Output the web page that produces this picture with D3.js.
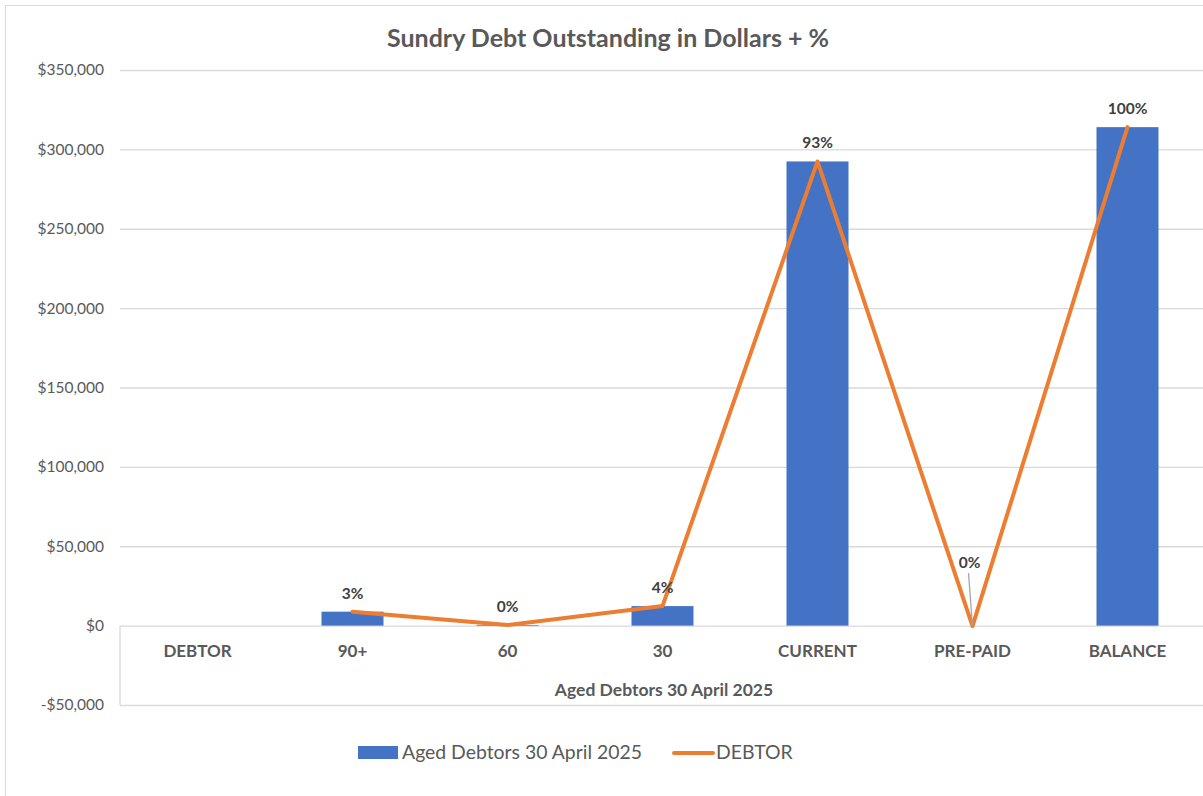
<!DOCTYPE html>
<html>
<head>
<meta charset="utf-8">
<script src="https://cdn.jsdelivr.net/npm/d3@7"></script>
<style>
  body { margin: 0; background: #fff; }
  text { font-family: Lato, "Open Sans", sans-serif; }
</style>
</head>
<body>
<script>
// chart data
const categories = ["DEBTOR", "90+", "60", "30", "CURRENT", "PRE-PAID", "BALANCE"];
const amounts = [null, 8800, 400, 12300, 292400, 0, 314000];
const debtorLine = [null, 8800, 400, 12300, 292400, -300, 314000];
const pctLabels = [null, "3%", "0%", "4%", "93%", "0%", "100%"];
const yTicks = [-50000, 0, 50000, 100000, 150000, 200000, 250000, 300000, 350000];

const W = 1203, H = 796;
const grey = "#595959";
const gridCol = "#d9d9d9";

const svg = d3.select("body").append("svg")
    .attr("width", W)
    .attr("height", H);

// outer chart border
svg.append("rect")
    .attr("x", 5.5).attr("y", 5.5)
    .attr("width", W + 10).attr("height", H + 10)
    .attr("fill", "none")
    .attr("stroke", gridCol);

const xScale = d3.scaleBand(categories, [120, 1205])
    .paddingInner(0.6)
    .paddingOuter(0.3);

const yScale = d3.scaleLinear([-50000, 350000], [705, 70]);

// title
svg.append("text")
    .attr("x", 608).attr("y", 47)
    .attr("text-anchor", "middle")
    .attr("font-size", 25)
    .attr("font-weight", "bold")
    .attr("fill", grey)
    .text("Sundry Debt Outstanding in Dollars + %");

// grid + y axis
const yAxis = svg.append("g")
    .attr("transform", "translate(120,0)")
    .call(d3.axisLeft(yScale)
        .tickValues(yTicks)
        .tickSize(-(1205 - 120))
        .tickPadding(16)
        .tickFormat(d => (d < 0 ? "-$" : "$") + d3.format(",")(Math.abs(d))));
yAxis.select(".domain").remove();
yAxis.selectAll(".tick line").attr("stroke", gridCol).attr("stroke-width", 1.3);
yAxis.selectAll(".tick text")
    .attr("fill", grey)
    .attr("font-size", 15.5)
    .attr("font-family", "Lato, sans-serif");

// frame line on the left of the category labels
svg.append("line")
    .attr("x1", 120).attr("x2", 120)
    .attr("y1", yScale(0)).attr("y2", yScale(-50000))
    .attr("stroke", gridCol).attr("stroke-width", 1.3);

// bars
svg.append("g")
    .selectAll("rect")
    .data(categories.map((c, i) => ({ c, v: amounts[i] })).filter(d => d.v != null))
    .enter()
    .append("rect")
    .attr("x", d => xScale(d.c))
    .attr("width", xScale.bandwidth())
    .attr("y", d => yScale(Math.max(0, d.v)))
    .attr("height", d => Math.abs(yScale(d.v) - yScale(0)))
    .attr("fill", "#4472C4");

// category labels
const xAxis = svg.append("g")
    .attr("transform", `translate(0, ${yScale(0)})`)
    .call(d3.axisBottom(xScale).tickSize(0).tickPadding(19));
xAxis.select(".domain").remove();
xAxis.selectAll(".tick text")
    .attr("fill", grey)
    .attr("font-size", 17)
    .attr("font-weight", "bold")
    .attr("font-family", "Lato, sans-serif");

svg.append("text")
    .attr("x", 664).attr("y", 696)
    .attr("text-anchor", "middle")
    .attr("font-size", 17.5)
    .attr("font-weight", "bold")
    .attr("fill", grey)
    .text("Aged Debtors 30 April 2025");

// orange line
const linePts = categories.map((c, i) => ({ c, v: debtorLine[i], p: pctLabels[i] })).filter(d => d.v != null);
const dMaker = d3.line()
    .x(d => xScale(d.c) + xScale.bandwidth() / 2)
    .y(d => yScale(d.v));

svg.append("path")
    .datum(linePts)
    .attr("d", dMaker)
    .attr("fill", "none")
    .attr("stroke", "#ED7D31")
    .attr("stroke-width", 4)
    .attr("stroke-linejoin", "round")
    .attr("stroke-linecap", "round");

// leader line for the PRE-PAID label
const pp = linePts.find(d => d.c == "PRE-PAID");
svg.append("line")
    .attr("x1", xScale(pp.c) + xScale.bandwidth() / 2 - 4)
    .attr("y1", 573)
    .attr("x2", xScale(pp.c) + xScale.bandwidth() / 2)
    .attr("y2", yScale(pp.v))
    .attr("stroke", "#a6a6a6")
    .attr("stroke-width", 1.3);

// percentage labels
svg.append("g")
    .selectAll("text")
    .data(linePts)
    .enter()
    .append("text")
    .attr("x", d => xScale(d.c) + xScale.bandwidth() / 2 - (d.c == "PRE-PAID" ? 3 : 0))
    .attr("y", d => d.c == "PRE-PAID" ? 568 : yScale(d.v) - 13)
    .attr("text-anchor", "middle")
    .attr("font-size", 15.5)
    .attr("font-weight", "bold")
    .attr("fill", "#404040")
    .text(d => d.p);

// legend
const leg = svg.append("g");
leg.append("rect")
    .attr("x", 358).attr("y", 746)
    .attr("width", 40).attr("height", 13)
    .attr("fill", "#4472C4");
leg.append("text")
    .attr("x", 402).attr("y", 759)
    .attr("font-size", 19.4)
    .attr("fill", grey)
    .text("Aged Debtors 30 April 2025");
leg.append("line")
    .attr("x1", 674).attr("x2", 713)
    .attr("y1", 753).attr("y2", 753)
    .attr("stroke", "#ED7D31")
    .attr("stroke-width", 4)
    .attr("stroke-linecap", "round");
leg.append("text")
    .attr("x", 716).attr("y", 759)
    .attr("font-size", 19.4)
    .attr("fill", grey)
    .text("DEBTOR");
</script>
</body>
</html>
